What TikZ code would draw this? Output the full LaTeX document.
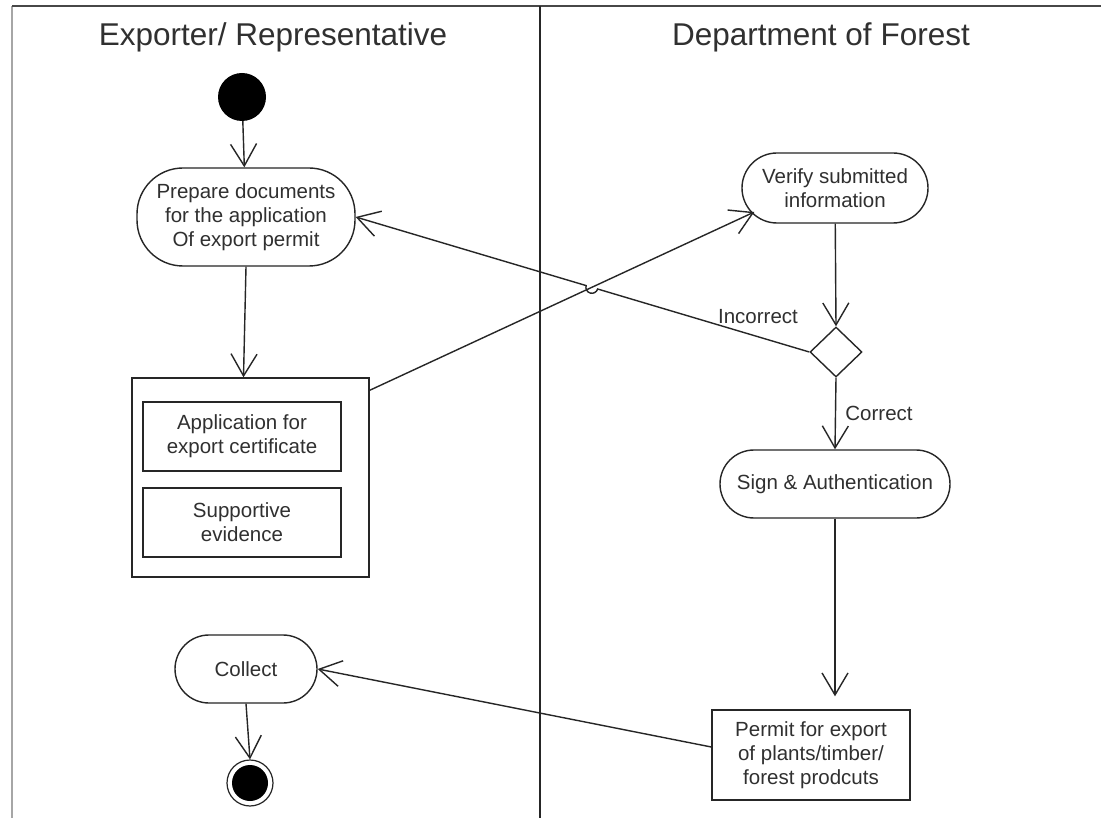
\documentclass[tikz,border=0pt]{standalone}
\usepackage{fontspec}
\setmainfont{Liberation Sans}
\usetikzlibrary{arrows.meta,shapes.geometric,calc,intersections}
\definecolor{ink}{HTML}{262626}
\definecolor{txt}{HTML}{303030}
\tikzset{
  every node/.style={text=txt},
  flow/.style={draw=ink, line width=1.4pt, -{Straight Barb[length=22pt,width=26pt,line width=1.4pt]}},
  action/.style={draw=ink, line width=1.4pt, rectangle, rounded corners=34pt, align=center,
    inner sep=0pt, font=\fontsize{20.5}{24}\selectfont},
  objbox/.style={draw=ink, line width=1.4pt, rectangle, align=center, inner sep=0pt,
    font=\fontsize{20.5}{24}\selectfont},
  lbl/.style={font=\fontsize{20.5}{24}\selectfont, inner sep=0pt},
  lanetitle/.style={font=\fontsize{31.5}{36}\selectfont, inner sep=0pt},
}
\begin{document}
\begin{tikzpicture}[x=1pt,y=1pt]
\useasboundingbox[fill=white] (0,0) rectangle (1101,-818);

% swimlane frame
\draw[gray!70, line width=2pt] (12,-6) -- (12,-818);
\draw[ink!85, line width=2pt] (12,-6) -- (1101,-6);
\draw[ink, line width=2pt] (540,-6) -- (540,-818);
\node[lanetitle] (laneA) at (273,-37) {Exporter/ Representative};
\node[lanetitle] (laneB) at (821,-37) {Department of Forest};

% exporter lane
\node[circle, fill=black, minimum size=48pt, inner sep=0pt] (start) at (242,-97) {};
\node[action, rounded corners=46pt, minimum width=218pt, minimum height=98pt] (prep) at (246,-217)
  {Prepare documents\\for the application\\Of export permit};
\node[objbox, minimum width=237pt, minimum height=199pt] (pack) at (250.5,-477.5) {};
\node[objbox, minimum width=198pt, minimum height=69pt] (app) at (242,-436.5)
  {Application for\\export certificate};
\node[objbox, minimum width=198pt, minimum height=69pt] (supp) at (242,-522.5)
  {Supportive\\evidence};
\node[action, minimum width=142pt, minimum height=68pt] (collect) at (246,-669) {Collect};
\node[circle, draw=ink, line width=1.2pt, minimum size=46pt, inner sep=0pt,
  path picture={\fill[black] (path picture bounding box.center) circle (18pt);}] (final) at (250,-783) {};

% forest department lane
\node[action, rounded corners=35pt, minimum width=186pt, minimum height=70pt] (verify) at (835,-188)
  {Verify submitted\\information};
\node[diamond, draw=ink, line width=1.4pt, minimum width=52pt, minimum height=50pt, inner sep=0pt] (dec) at (836,-352) {};
\node[action, minimum width=230pt, minimum height=68pt] (sign) at (835,-484) {Sign \& Authentication};
\node[objbox, minimum width=198pt, minimum height=90pt] (permit) at (811,-755)
  {Permit for export\\of plants/timber/\\forest prodcuts};
\node[lbl] (lblIn) at (758,-317) {Incorrect};
\node[lbl] (lblOk) at (879,-413) {Correct};

% flows
\draw[flow] (start) -- (prep);
\draw[flow] (prep.south) -- ([xshift=-7pt]pack.north);
\draw[flow, name path=submit] ([yshift=-13pt]pack.north east) -- ($(verify.west)+(13pt,-24pt)$);
\draw[flow] (verify) -- (dec.north);
\path[name path=reject] (dec.west) -- (prep.east);
\path[name intersections={of=submit and reject, by=cross}];
\draw[flow] let \p1=($(prep.east)-(dec.west)$), \n1={atan2(\y1,\x1)} in
  (dec.west) -- ($(cross)!6pt!(dec.west)$)
  arc[start angle=\n1+180, end angle=\n1, radius=6pt]
  -- (prep.east);
\draw[flow] (dec.south) -- (sign.north);
\draw[flow, shorten >=13pt] (sign.south) -- (sign.south |- permit.north);
\draw[flow] ([yshift=8pt]permit.west) -- (collect.east);
\draw[flow] (collect.south) -- (final.north);
\end{tikzpicture}
\end{document}
